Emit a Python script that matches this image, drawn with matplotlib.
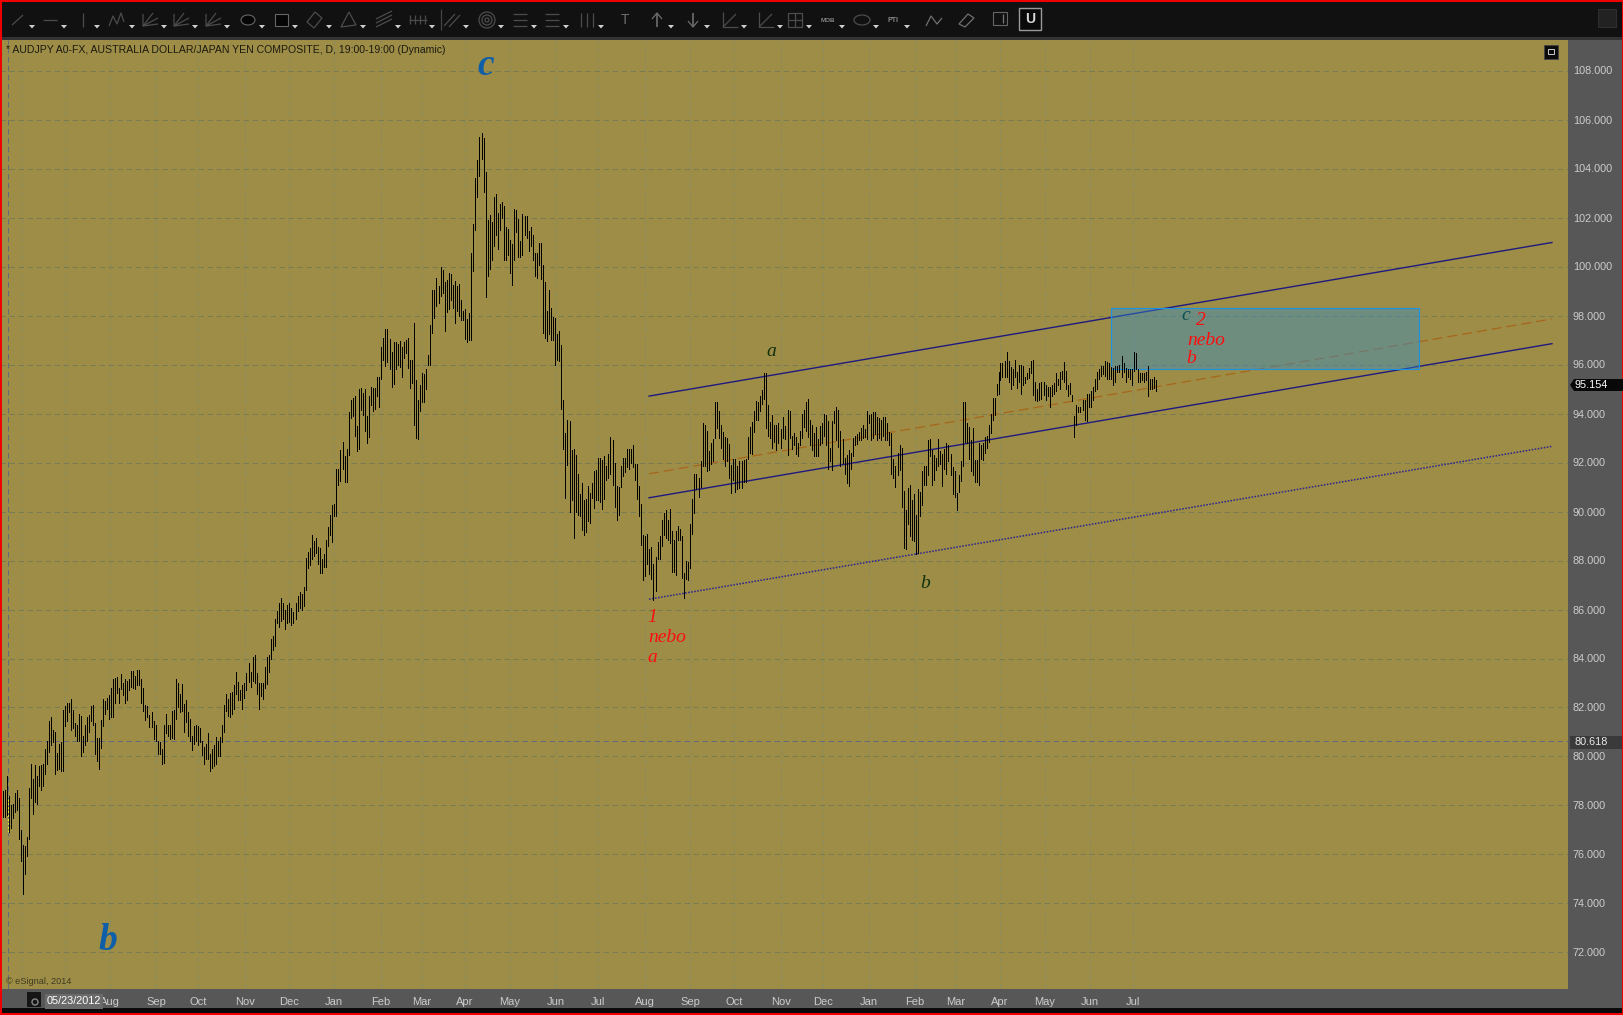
import numpy as np
import matplotlib
matplotlib.use("Agg")
import matplotlib.pyplot as plt
from matplotlib.collections import LineCollection
from matplotlib.patches import Rectangle, Polygon, Ellipse, Circle

plt.rcParams['font.family'] = ['Liberation Sans', 'DejaVu Sans']

# ---------- DATA: (high, low) of the daily bars ----------
bars_2012a = [(80.0,78.4),(78.6,77.55),(78.65,77.55),(79.2,77.6),(78.4,76.9),(78.0,77.1),(78.05,77.5),(78.5,77.75),(78.65,77.8),(78.3,76.65),
 (77.0,75.75),(76.4,74.4),(76.35,75.2),(76.7,75.95),(78.7,76.65),(79.7,78.3),(79.1,77.65),(79.65,78.15),(79.2,78.05),(79.6,78.8),
 (79.65,78.65),(79.7,78.8),(80.3,79.3),(80.65,79.7),(81.45,80.2),(81.6,80.45),(81.1,80.6),(81.0,79.3),(80.15,79.45),(80.5,79.5),
 (80.6,79.4),(81.9,79.4),(82.05,81.25),(82.2,81.45),(82.2,81.8),(82.35,81.1),(81.9,81.15),(81.35,80.85),(81.3,80.65),(81.75,80.65),
 (81.65,80.0),(80.85,80.2),(81.3,80.45),(81.6,80.65),(81.7,81.0),(82.05,81.45),(82.1,81.3),(81.35,80.1),(80.75,79.8),(80.75,79.5),
 (81.5,80.35),(82.35,81.25),(82.25,81.75),(82.4,81.95),(82.5,81.55),(82.8,81.6),(83.15,81.6),(83.2,82.2),(83.25,82.6),(82.8,82.2),
 (83.35,82.75),(83.0,82.5),(83.15,82.2),(83.1,82.3),(83.15,82.7),(83.5,82.85),(83.5,82.8),(83.3,82.75),(83.55,82.9),(83.55,82.9),
 (83.15,82.2),(82.8,81.85),(82.1,81.5),(82.05,81.6),(81.7,81.2),(81.8,81.2),(81.45,80.7),(81.3,80.65),(80.65,80.1),(80.6,80.1),
 (80.3,79.7),(81.3,79.75),(81.75,80.95),(81.3,80.85),(81.3,80.7),(81.85,80.75),(81.9,80.7),(83.15,81.55),(83.0,82.0),(82.55,81.8),
 (82.95,81.85),(82.15,81.0),(82.3,81.4),(81.8,80.85),(81.55,80.65),(80.85,80.25),(81.25,80.5),(81.3,80.65),(81.25,80.45),(81.15,80.6),
 (80.65,80.05),(80.4,79.7),(80.5,79.9),(80.95,79.9),(80.1,79.4),(80.3,79.55),(80.45,79.6),(80.8,79.7),(80.65,80.0),(80.8,80.0),
 (81.3,80.6),(82.1,81.0),(82.55,81.85),(82.35,81.65),(82.6,81.6),(82.65,81.75),(82.9,81.95),(83.45,82.55),(83.05,82.3),(82.7,82.3)]

bars_2012b = [(82.9,81.95),(83.0,82.4),(83.4,82.7),(83.8,83.05),(83.45,82.85),(84.05,83.1),(84.15,83.0),(83.4,82.55),(83.0,81.95),(83.0,82.45),
 (83.0,82.35),(83.65,82.8),(84.05,82.95),(84.15,83.45),(84.8,84.0),(84.9,84.35),(85.6,84.5),(85.95,85.45),(86.25,85.3),(86.45,85.55),
 (86.25,85.6),(86.0,85.2),(86.2,85.45),(86.25,85.5),(86.05,85.35),(85.9,85.45),(86.25,85.6),(86.55,85.95),(86.7,86.05),(86.65,86.0),
 (86.9,86.15),(88.1,86.8),(88.35,87.7),(88.5,87.8),(89.05,88.05),(88.8,88.2),(88.9,88.3),(88.55,87.85),(88.5,87.5),(88.05,87.5),
 (88.25,87.75),(88.85,87.75),(89.35,88.6),(89.85,89.05),(90.25,88.75),(90.3,89.8),(91.75,89.8),(91.75,91.1),(92.5,91.25),(92.85,91.75),
 (92.25,91.2),(92.55,91.2),(94.05,92.3),(94.55,93.8),(94.65,93.9),(94.7,93.1),(93.5,92.45),(95.0,92.55),(95.05,94.15),(94.85,93.95),
 (95.0,93.3),(93.9,92.8),(94.7,93.05),(95.1,94.35),(95.05,94.1),(95.05,94.2),(95.5,94.7),(95.5,94.25),(96.7,95.4),(97.1,96.2),
 (97.45,95.95),(97.45,96.1),(97.05,95.8),(96.5,95.1),(96.9,95.2),(96.9,95.8),(96.85,96.0),(96.95,95.9),(96.7,95.5),(96.9,96.25),
 (97.0,96.45),(97.1,95.85),(96.2,95.05),(96.2,95.25),(97.7,93.55),(95.35,93.0),(94.55,92.95),(95.15,94.1),(95.65,94.45),(95.6,94.45),
 (95.8,95.0),(96.4,96.0),(97.6,96.0)]

bars_2013a = [(99.05,97.3),(99.05,97.9),(99.55,98.4),(99.2,98.5),(100.0,98.8),(99.85,98.9),(99.35,97.35),(99.45,98.15),(99.75,98.25),(99.7,98.65),
 (99.25,98.3),(99.4,97.7),(99.2,98.2),(99.3,98.0),(98.65,97.8),(98.2,97.8),(98.25,97.05),(97.85,96.9),(98.1,97.0),(100.55,97.0),
 (101.75,99.8),(103.6,101.5),(104.35,102.85),(105.3,103.7),(105.45,104.4),(105.25,103.05),(103.85,98.75),(101.9,99.6),(102.1,99.9),(101.8,100.25),
 (102.85,100.85),(102.95,101.3),(102.2,100.7),(102.55,101.5),(102.65,102.0),(102.45,100.25),(101.6,100.25),(101.55,100.45),(101.1,99.75),(100.9,99.25),
 (102.35,100.25),(102.3,101.4),(101.95,100.4),(101.05,100.4),(102.15,100.45),(102.05,101.3),(102.05,101.15),(101.45,100.65),(101.6,100.85),(101.3,100.25),
 (100.55,99.6),(100.55,99.55),(100.95,100.05),(100.95,99.5),(100.05,97.3),(99.35,97.1),(98.2,96.95),(99.05,97.25),(98.3,97.0),(97.95,97.0),
 (97.9,96.0),(97.25,96.2),(97.35,96.15),(96.8,94.2)]

bars_2013b = [(94.55,92.55),(93.2,90.55),(93.75,91.9),(93.7,90.0),(92.5,90.45),(92.55,88.9),(92.3,90.0),(91.55,89.85),(90.7,89.8),(91.15,89.25),
 (90.45,89.05),(90.5,89.15),(91.05,89.6),(90.75,89.55),(91.15,90.55),(91.65,90.15),(91.7,90.45),(92.2,90.45),(92.2,90.4),(92.1,90.1),
 (92.25,90.5),(91.85,91.3),(92.35,91.35),(93.05,91.55),(92.9,91.1),(92.0,90.2),(91.05,89.65),(91.0,89.85),(91.85,91.0),(92.2,91.45),
 (92.2,91.6),(92.55,91.8),(92.55,91.75),(92.55,92.0),(92.7,91.8),(91.95,91.3),(91.95,90.5),(91.05,89.8),(90.3,88.65),(89.05,87.2),
 (89.0,87.35),(89.1,87.85),(88.45,87.45),(88.55,87.25),(87.85,86.4),(88.15,86.75),(88.75,88.05),(89.0,88.05),(89.65,88.6),(89.95,89.05),
 (90.05,88.9),(89.65,88.85),(90.1,88.7),(89.2,87.55),(88.85,87.55),(89.2,87.4),(89.4,88.85),(89.3,88.85),(89.0,87.3),(87.5,86.45),
 (88.0,87.25),(87.95,87.2),(89.5,87.7),(90.5,89.1),(91.55,89.95),(91.55,90.9),(91.35,90.6),(92.05,91.0),(93.6,91.85),(93.55,91.85),
 (93.3,91.65),(92.45,91.7),(92.8,91.95),(92.95,92.05),(94.45,93.0),(94.45,93.4),(94.1,93.0),(93.55,92.6),(93.25,92.15),(93.05,91.85),
 (93.0,92.05),(92.75,91.35),(91.9,90.75),(92.15,91.3),(92.15,90.8),(91.85,90.9),(92.05,90.95),(92.05,90.95),(92.1,91.2),(92.15,91.2),
 (93.05,92.15),(93.45,92.4),(93.65,92.35),(94.1,93.25),(94.5,93.75),(94.45,93.75),(94.7,94.1),(94.95,94.4),(95.65,94.6),(95.65,93.4),
 (94.35,93.1),(93.65,93.0),(93.95,92.6),(93.55,92.85),(93.55,92.5),(93.6,92.8)]

bars_2014a = [(93.35,92.6),(93.85,93.0),(93.5,92.95),(94.15,92.3),(94.1,93.0),(93.1,92.55),(93.2,92.7),(93.05,92.35),(92.8,92.25),(93.3,92.7),
 (94.0,93.0),(94.15,93.45),(94.45,93.3),(94.6,93.05),(93.75,92.7),(93.55,92.5),(93.2,92.25),(93.45,92.25),(92.95,92.25),(93.5,92.7),
 (93.6,92.8),(94.0,93.1),(93.95,92.7),(93.7,91.75),(92.6,92.05),(93.7,91.7),(94.1,93.6),(94.25,92.9),(94.15,92.65),(93.3,91.85),
 (92.95,92.0),(92.2,91.55),(92.3,91.15),(92.5,91.05),(92.4,91.75),(93.0,92.25),(93.1,92.7),(93.15,92.75),(93.25,92.9),(93.4,92.9),
 (93.55,93.0),(93.35,93.05),(94.1,92.95),(93.95,93.6),(94.0,92.9),(94.05,93.0),(94.05,93.15),(93.85,92.9),(93.8,93.0),(93.75,92.9),
 (93.85,93.1),(93.85,92.9),(93.6,92.9),(93.25,92.7),(93.2,91.55),(92.15,91.35),(91.85,91.0),(92.4,91.5),(92.7,91.7),(92.6,90.2),
 (90.85,88.5),(90.05,88.45),(90.95,89.5),(91.1,89.0),(90.45,88.85),(90.7,88.8),(89.85,88.25),(90.9,88.3),(90.8,89.8),(91.65,90.25),
 (91.85,91.1),(91.85,91.1),(92.9,91.5),(92.95,92.25),(92.5,91.1),(92.3,91.3),(92.2,91.7),(92.95,91.85),(92.45,91.95),(92.35,91.05),
 (92.55,91.75),(92.8,91.55),(92.7,92.05),(92.35,91.5),(91.8,90.7),(91.65,90.6),(90.75,90.05),(91.5,90.8),(92.05,91.25),(94.45,91.85),
 (94.45,92.85),(93.6,92.8),(93.45,92.15),(92.9,91.65),(93.4,91.5),(92.1,91.2),(92.1,91.2),(92.8,91.1),(92.7,92.15),(92.8,92.1),
 (93.05,92.4),(93.1,92.6),(93.55,92.85),(94.0,93.2),(94.65,93.75),(94.65,93.95),(95.2,94.75),(95.7,94.8)]

bars_2014b = [(96.05,95.35),(96.05,95.5),(96.15,95.5),(96.5,95.5),(96.15,95.3),(95.9,95.0),(95.8,95.15),(96.2,95.5),(95.7,95.05),(96.0,95.3),
 (96.0,94.8),(95.95,95.15),(95.5,95.25),(95.65,95.4),(95.85,95.45),(96.15,95.65),(96.2,94.75),(95.3,94.55),(95.0,94.5),(95.25,94.55),
 (95.3,94.6),(95.3,94.75),(95.15,94.55),(95.1,94.7),(95.1,94.25),(95.15,94.7),(95.25,94.8),(95.65,94.9),(95.4,95.15),(95.7,95.0),
 (95.75,95.4),(96.1,95.3),(95.75,95.0),(95.15,94.7),(95.25,94.8),(94.75,94.5),(93.9,93.05),(94.35,93.55),(94.25,94.05),(94.25,94.05),
 (94.55,94.15),(94.55,93.75),(94.8,93.7),(94.8,94.25),(94.9,94.25),(95.1,94.55),(95.4,94.9),(95.7,95.0),(95.8,95.4),(95.95,95.55),
 (95.95,95.6),(96.15,95.55),(96.1,95.4),(96.05,95.4),(95.9,95.4),(95.85,95.15),(95.95,95.3),(95.95,95.7),(96.0,95.7),(96.35,95.5),
 (96.05,95.7),(95.85,95.3),(95.8,95.5),(95.8,95.4),(95.8,95.15),(96.5,95.75),(96.45,95.8),(95.8,95.3),(95.65,95.3),(95.65,95.35),
 (95.65,95.3),(95.7,95.35),(95.95,94.7),(95.4,95.0),(95.4,95.0),(95.5,95.05),(95.35,94.9)]

segments = [bars_2012a, bars_2012b, bars_2013a, bars_2013b, bars_2014a, bars_2014b]
seg_first = [0.0, 120.7, 215.7, 281.2, 390.2, 499.7]   # first bar slot of each segment
seg_last  = [119.4, 214.7, 280.2, 388.7, 499.2, 577.7]  # last bar slot of each segment

price_ticks = list(range(72, 110, 2))
month_slots = [10.5, 32, 54.5, 77.5, 98.5, 122, 144, 166.5, 190, 210.5, 232, 254.5, 277.5,
               298.5, 322, 344.5, 366.5, 390, 411, 434, 457, 477.5, 499.5, 522, 544.5, 566]
month_names = ['', '', 'Aug', 'Sep', 'Oct', 'Nov', 'Dec', 'Jan', 'Feb', 'Mar', 'Apr', 'May', 'Jun',
               'Jul', 'Aug', 'Sep', 'Oct', 'Nov', 'Dec', 'Jan', 'Feb', 'Mar', 'Apr', 'May', 'Jun', 'Jul']

line_slots = [324, 775.5]
upper_channel = [94.71, 100.98]
lower_channel = [90.56, 96.85]
mid_channel   = [91.54, 97.86]
base_channel  = [86.42, 92.66]
box_slots = [555.2, 708.8]
box_prices = [95.83, 98.29]
last_price = 95.154
cross_price = 80.618
cross_slot = 3.7

wave_labels = [('c', 242.5, 108.2, '#0e5ea8', 27, 'bold'), ('b', 53.5, 72.5, '#0e5ea8', 27, 'bold'),
               ('a', 385, 96.55, '#10320c', 14, 'normal'), ('b', 462, 87.05, '#10320c', 14, 'normal'),
               ('c', 592.5, 97.98, '#0d4f50', 14, 'normal'), ('2', 600, 97.8, '#ff0d0d', 14, 'normal'),
               ('nebo', 602.5, 96.98, '#ff0d0d', 14, 'normal'), ('b', 595, 96.24, '#ff0d0d', 14, 'normal'),
               ('1', 325.5, 85.69, '#ff0d0d', 14, 'normal'), ('nebo', 333, 84.87, '#ff0d0d', 14, 'normal'),
               ('a', 325.5, 84.06, '#ff0d0d', 14, 'normal')]

title_text = '* AUDJPY A0-FX, AUSTRALIA DOLLAR/JAPAN YEN COMPOSITE, D, 19:00-19:00 (Dynamic)'

# ---------- FIGURE ----------
W, H = 1624, 1015
fig = plt.figure(figsize=(W/100, H/100), dpi=100, facecolor='#575757')

L, R, T, B = 0, 1568, 40, 989
ax = fig.add_axes([L/W, 1-B/H, (R-L)/W, (B-T)/H], facecolor='#9d8d46')
ax.set_xlim(-0.5, 783.5)
ax.set_ylim(98-(B-315.5)/24.5, 98-(T-315.5)/24.5)

for s in ax.spines.values():
    s.set_visible(False)
ax.yaxis.tick_right()
ax.set_yticks(price_ticks)
ax.set_yticklabels([f'{p:.3f}' for p in price_ticks], fontsize=7.8, color='#cccccc', weight='medium')
ax.set_xticks(month_slots)
ax.set_xticklabels(month_names, fontsize=8, color='#cccccc')
ax.tick_params(axis='both', length=0)
ax.tick_params(axis='y', pad=3.5)
ax.tick_params(axis='x', pad=6)
ax.xaxis.grid(True, color='#8b8b5c', lw=0.72, ls=(0, (5.5, 3.5)), zorder=1)
ax.yaxis.grid(True, color='#797b53', lw=0.72, ls=(0, (5.5, 3.5)), zorder=1)
ax.set_axisbelow(True)

# channels
ax.plot(line_slots, upper_channel, color='#1f1a80', lw=1.0, zorder=2)
ax.plot(line_slots, lower_channel, color='#1f1a80', lw=1.0, zorder=2)
ax.plot(line_slots, mid_channel, color='#a8651c', lw=0.9, ls=(0, (8, 4)), zorder=2)
ax.plot(line_slots, base_channel, color='#2a2490', lw=1.1, ls=(0, (1, 1)), zorder=2)

# target box
ax.add_patch(Rectangle((box_slots[0], box_prices[0]), box_slots[1]-box_slots[0], box_prices[1]-box_prices[0],
                       facecolor='#2f8fd0', alpha=0.42, edgecolor='none', zorder=3))
ax.add_patch(Rectangle((box_slots[0], box_prices[0]), box_slots[1]-box_slots[0], box_prices[1]-box_prices[0],
                       facecolor='none', edgecolor='#1a92e6', lw=0.8, zorder=3))

# crosshair
ax.axhline(cross_price, color='#666a78', lw=0.72, ls=(0, (5.5, 3.5)), zorder=2)
ax.axvline(cross_slot, color='#666a78', lw=0.72, ls=(0, (5.5, 3.5)), zorder=2)

# bars
segs = []
for bars, a, b in zip(segments, seg_first, seg_last):
    slots = np.linspace(a, b, len(bars))
    for sl, (hi, lo) in zip(slots, bars):
        segs.append([(sl, lo), (sl, hi)])
ax.add_collection(LineCollection(segs, colors='black', linewidths=0.7, antialiaseds=False, zorder=4))
fb = bars_2012a[4]
ax.plot([cross_slot, cross_slot], [fb[1], fb[0]], color='#f2ee30', lw=0.7, ls=(0, (2, 2)), zorder=5)

# wave labels
for txt, sl, pr, col, fs, wt in wave_labels:
    ax.text(sl, pr, txt, color=col, fontsize=fs, style='italic', family='Liberation Serif', weight=wt,
            ha='center', va='center', zorder=6)

# ---------- CHROME in figure pixels ----------
ch = fig.add_axes([0, 0, 1, 1], facecolor='none', zorder=10)
ch.set_xlim(0, W); ch.set_ylim(H, 0); ch.axis('off')

ch.add_patch(Rectangle((0, 0), W, 37, fc='#111111', ec='none'))
ch.add_patch(Rectangle((0, 37), W, 3, fc='#333333', ec='none'))
ch.add_patch(Rectangle((0, 1008), W, 7, fc='#0a0a0a', ec='none'))
for rect in [(0, 0, W, 1.5), (0, H-2, W, 2), (0, 0, 2, H), (W-1.5, 0, 1.5, H)]:
    ch.add_patch(Rectangle(rect[:2], rect[2], rect[3], fc='#f00000', ec='none'))

ch.text(6, 50, title_text, fontsize=7.55, color='#1c1a10', va='center', ha='left')
ch.text(6, 981, '\u00a9 eSignal, 2014', fontsize=6.6, color='#3f3a22', va='center', ha='left')

# price flags
ch.add_patch(Polygon([(1570, 385), (1574, 379), (1624, 379), (1624, 391), (1574, 391)], fc='#080808', ec='none'))
ch.text(1575, 385, f'{last_price:.3f}', fontsize=7.8, color='white', va='center', ha='left')
ch.add_patch(Rectangle((1570, 736), 52, 12.5, fc='#3a3a3a', ec='none'))
ch.text(1575, 742, f'{cross_price:.3f}', fontsize=7.8, color='#e8e8e8', va='center', ha='left')

# date box + lock
ch.add_patch(Rectangle((45, 994), 58, 15, fc='#6a6a6a', ec='none'))
ch.text(47, 1001.5, '05/23/2012', fontsize=7.8, color='white', va='center', ha='left')
ch.add_patch(Rectangle((27, 992), 14, 15, fc='#151515', ec='none'))
ch.add_patch(Circle((35, 1002), 3, fc='none', ec='#888888', lw=1))

# top-right buttons
ch.add_patch(Rectangle((1544, 45), 14, 14, fc='#0c0c0c', ec='#444444', lw=0.6))
ch.add_patch(Rectangle((1548, 49), 6, 5, fc='none', ec='#cccccc', lw=0.7))
ch.add_patch(Rectangle((1598, 9), 18, 18, fc='#222222', ec='#333333', lw=0.6))

# toolbar icons
G = '#4c4c4c'
def ln(pts, c=G, lw=0.9):
    xs, ys = zip(*pts)
    ch.plot(xs, ys, color=c, lw=lw, solid_capstyle='butt')
def tri(x):
    ch.add_patch(Polygon([(x, 25), (x+6, 25), (x+3, 28.5)], fc='#cfcfcf', ec='none'))

icons = [18, 50, 83, 118, 150, 181, 213, 248, 281, 315, 349, 384, 418, 452, 487, 520, 552, 587,
         625, 657, 693, 730, 766, 795, 828, 862, 893, 934, 966]
for i, x in enumerate(icons):
    if i == 0:   ln([(x-6, 25), (x+5, 15)])
    elif i == 1: ln([(x-7, 20), (x+7, 20)])
    elif i == 2: ln([(x, 13), (x, 27)])
    elif i == 3: ln([(x-9, 26), (x-5, 16), (x-1, 24), (x+3, 13), (x+6, 22)])
    elif i in (4, 5, 6): ln([(x-7, 14), (x-7, 26), (x+8, 18)]); ln([(x-7, 26), (x+8, 24)]); ln([(x-7, 26), (x+3, 13)])
    elif i == 7: ch.add_patch(Ellipse((x, 20), 14, 10, fc='#050505', ec='#666666', lw=0.8))
    elif i == 8: ch.add_patch(Rectangle((x-6, 14), 13, 12, fc='#050505', ec='#666666', lw=0.8))
    elif i == 9: ch.add_patch(Polygon([(x-8, 22), (x, 12), (x+7, 18), (x-1, 28)], fc='none', ec=G, lw=0.9))
    elif i == 10: ch.add_patch(Polygon([(x-8, 27), (x, 12), (x+7, 25)], fc='none', ec=G, lw=0.9))
    elif i == 11:
        for d in (0, 4, 8): ln([(x-8, 23+d-4), (x+8, 15+d-4)])
    elif i == 12:
        ln([(x-9, 20), (x+9, 20)])
        for d in (-8, -3, 2, 7): ln([(x+d, 15), (x+d, 24)])
    elif i == 13:
        ln([(x-8, 26), (x+3, 14)]); ln([(x-3, 27), (x+8, 15)])
    elif i == 14:
        for r in (8, 5, 2): ch.add_patch(Circle((x, 20), r, fc='none', ec=G, lw=0.9))
    elif i in (15, 16):
        for d in (14, 20, 26): ln([(x-7, d), (x+7, d)])
    elif i == 17:
        for d in (-6, 0, 6): ln([(x+d, 13), (x+d, 27)])
    elif i == 18:
        ch.text(x, 20, 'T', fontsize=10, color='#6e6e6e', ha='center', va='center')
    elif i == 19:
        ln([(x, 27), (x, 14)], c='#6e6e6e', lw=1.2); ln([(x-5, 19), (x, 13), (x+5, 19)], c='#6e6e6e')
    elif i == 20:
        ln([(x, 13), (x, 26)], c='#6e6e6e', lw=1.2); ln([(x-5, 21), (x, 27), (x+5, 21)], c='#6e6e6e')
    elif i in (21, 22):
        ln([(x-7, 12), (x-7, 27), (x+8, 27)]); ln([(x-7, 27), (x+6, 14)])
    elif i == 23:
        ch.add_patch(Rectangle((x-7, 13), 14, 14, fc='none', ec=G, lw=0.9))
        ln([(x, 13), (x, 27)]); ln([(x-7, 20), (x+7, 20)])
    elif i == 24:
        ch.text(x, 20, 'MOB', fontsize=4.5, color='#888888', ha='center', va='center', weight='bold')
    elif i == 25:
        ch.add_patch(Ellipse((x, 20), 16, 10, fc='none', ec=G, lw=0.9))
    elif i == 26:
        ch.text(x, 20, 'PTI', fontsize=5, color='#888888', ha='center', va='center', weight='bold')
    elif i == 27:
        ln([(x-8, 26), (x-3, 16), (x+3, 24), (x+8, 18)], c='#707070')
    elif i == 28:
        ch.add_patch(Polygon([(x-7, 24), (x+2, 14), (x+8, 18), (x-1, 27)], fc='none', ec='#707070', lw=0.9))
    if i < 27 and i != 18:
        tri(x+11)

ch.add_patch(Rectangle((993, 12), 14, 13, fc='none', ec='#666666', lw=0.8))
ln([(1003, 14), (1003, 23)], c='#777777')
ch.add_patch(Rectangle((1019, 8), 22, 22, fc='#0a0a0a', ec='#9a9a9a', lw=1))
ch.text(1030, 19, 'U', fontsize=10, color='#d8d8d8', ha='center', va='center', weight='bold')
ln([(441, 9), (441, 30)], c='#444444')

fig.savefig('out.png', dpi=100, facecolor=fig.get_facecolor())
